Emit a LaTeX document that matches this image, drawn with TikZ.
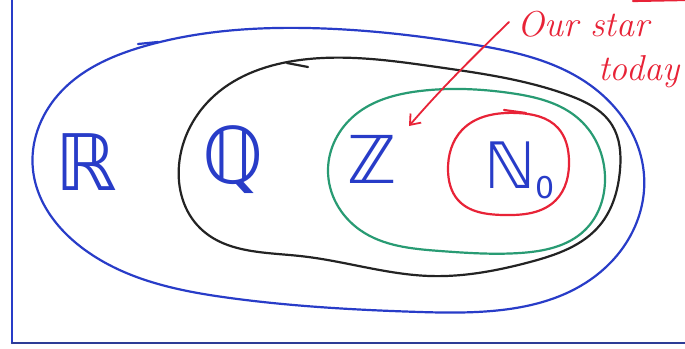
\documentclass[tikz,border=0pt]{standalone}
\usepackage{fontspec}
\usetikzlibrary{arrows.meta,hobby}
\newfontfamily\dvfont{DejaVu Sans}
\definecolor{penblue}{RGB}{40,60,200}
\definecolor{penframe}{RGB}{45,60,150}
\definecolor{penblack}{RGB}{35,35,35}
\definecolor{pengreen}{RGB}{40,155,115}
\definecolor{penred}{RGB}{232,35,55}
\begin{document}
\begin{tikzpicture}[x=1pt,y=-1pt,
  pen/.style={line width=2.2pt, line cap=round, line join=round},
  loop/.style={pen, use Hobby shortcut, closed=true},
  setlabel/.style={text=penblue, font=\dvfont\fontsize{78}{78}\selectfont, inner sep=0pt},
  note/.style={text=penred, font=\itshape\fontsize{36}{36}\selectfont, inner sep=0pt}]
\useasboundingbox (0,0) rectangle (685,348);
\fill[white] (0,0) rectangle (685,348);
% frame
\draw[pen, penblue] (12,0) -- (12,343);
\draw[pen, penframe] (12,343) -- (685,343);
\draw[pen, penred] (633,1) -- (685,0);
% outer blue set R
\draw[loop, penblue] (33,170) .. (58,95) .. (145,46) .. (306,28) .. (470,44)
  .. (590,85) .. (644,175) .. (605,268) .. (420,312) .. (230,298) .. (85,250);
\draw[pen, penblue] (138,44) -- (158,42);
% black Q
\draw[loop, penblack] (179,165) .. (215,95) .. (300,60) .. (437,67) .. (568,95)
  .. (612,125) .. (620,170) .. (600,225) .. (530,262) .. (430,276) .. (300,256) .. (200,228);
\draw[pen, penblack] (287,63) -- (308,67);
% green Z
\draw[loop, pengreen] (328,170) .. (355,115) .. (420,91) .. (510,93) .. (580,120)
  .. (605,177) .. (585,230) .. (520,253) .. (440,251) .. (360,230);
% red N0
\draw[loop, penred] (448,170) .. (462,130) .. (517,113) .. (558,128) .. (569,160)
  .. (556,200) .. (503,215) .. (458,200);
\draw[pen, penred] (504,110) -- (526,113);
% labels
\node[setlabel, anchor=base] (R) at (86,190) {ℝ};
\node[setlabel, anchor=base] (Q) at (233,183) {ℚ};
\node[setlabel, anchor=base, font=\dvfont\fontsize{66}{66}\selectfont] (Z) at (372,183) {ℤ};
\node[setlabel, anchor=base west, font=\dvfont\fontsize{64}{64}\selectfont] (N) at (484,188)
  {ℕ\raisebox{-10pt}{\fontsize{30}{30}\selectfont 0}};
% note
\node[note, anchor=base west] (star) at (517,36) {Our star};
\node[note, anchor=base west] (today) at (598,80) {today};
\coordinate (tail) at (509,22);
\coordinate (tip) at (409,126);
\draw[pen, penred, line width=1.8pt, -{Straight Barb[length=9pt,width=14pt]}]
  (tail) .. controls (470,60) and (440,90) .. (tip);
\end{tikzpicture}
\end{document}
